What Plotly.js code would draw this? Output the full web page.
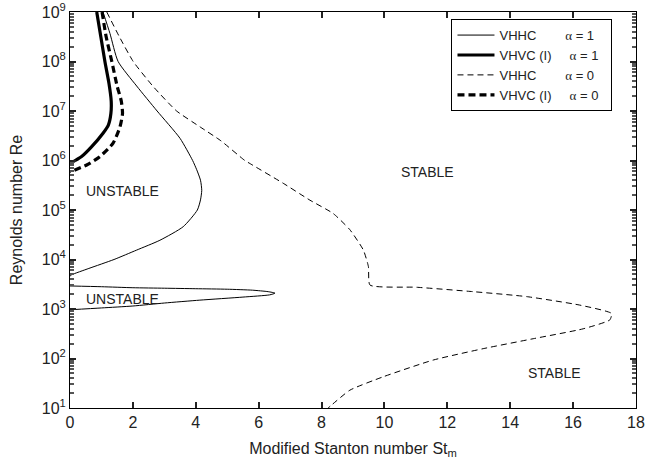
<!DOCTYPE html>
<html>
<head>
<meta charset="utf-8">
<script src="https://cdn.plot.ly/plotly-3.0.1.min.js"></script>
<style>html,body{margin:0;padding:0;background:#fff;}#chart{width:646px;height:473px;}</style>
</head>
<body>
<div id="chart"></div>
<script>
// VHHC, alpha = 1 (thin solid): upper branch
const vhhcA1UpperSt = [1.05, 1.27, 1.53, 2.12, 2.77, 3.5, 3.9, 4.03, 4.15, 4.19, 4.15, 4.05, 3.6, 2.86, 2.12, 1.4, 0.6, 0.05, 0];
const vhhcA1UpperRe = [1e9, 3.7e8, 1e8, 3.2e7, 1e7, 2.8e6, 1e6, 6.5e5, 4e5, 2.5e5, 1.6e5, 1e5, 4.6e4, 2.45e4, 1.55e4, 1e4, 6.6e3, 4.9e3, 4.6e3];
// VHHC, alpha = 1 (thin solid): lower loop
const vhhcA1LowerSt = [0, 1, 2, 3, 4, 5, 5.8, 6.3, 6.52, 6.35, 5.5, 4.13, 3, 2, 1, 0];
const vhhcA1LowerRe = [2920, 2820, 2690, 2630, 2570, 2510, 2400, 2240, 2090, 1930, 1740, 1510, 1320, 1150, 1050, 965];
// VHVC (I), alpha = 1 (thick solid)
const vhvcA1St = [0.85, 0.98, 1.11, 1.24, 1.31, 1.30, 1.22, 1.05, 0.69, 0.37, 0];
const vhvcA1Re = [1e9, 3.16e8, 1e8, 3.6e7, 1.6e7, 8.9e6, 5.2e6, 3.55e6, 1.9e6, 1.2e6, 8.7e5];
// VHHC, alpha = 0 (thin dashed)
const vhhcA0St = [1.17, 1.57, 2.01, 2.65, 3.39, 4.13, 4.8, 5.56, 5.72, 6.78, 7.63, 8.37, 8.9, 9.33, 9.49, 9.54, 11.02, 12.82, 14.52, 16.21, 17.22, 17.17, 16.32, 14.73, 13.14, 11.55, 9.96, 8.9, 8.32, 8.21];
const vhhcA0Re = [1e9, 3.16e8, 1e8, 3.1e7, 1e7, 4.8e6, 2.5e6, 1e6, 8.7e5, 3.47e5, 1.58e5, 8.5e4, 4e4, 1.55e4, 7.2e3, 3.05e3, 2.75e3, 2.24e3, 1.78e3, 1.2e3, 813, 603, 398, 251, 158, 93, 42.7, 22.9, 11.5, 10];
// VHVC (I), alpha = 0 (thick dashed)
const vhvcA0St = [1.02, 1.15, 1.33, 1.5, 1.63, 1.67, 1.59, 1.37, 0.95, 0.53, 0];
const vhvcA0Re = [1e9, 3.16e8, 1e8, 3.16e7, 1.6e7, 8.9e6, 4.8e6, 2.24e6, 1.2e6, 8.1e5, 5.9e5];

const NB = '\u00a0';
const ALPHA = '<span style="font-family:Liberation Serif">α</span>';
const seriesNames = [
  'VHHC' + NB.repeat(8) + ALPHA + ' = 1' + NB.repeat(2),
  'VHVC (I)' + NB.repeat(5) + ALPHA + ' = 1' + NB.repeat(2),
  'VHHC' + NB.repeat(8) + ALPHA + ' = 0' + NB.repeat(2),
  'VHVC (I)' + NB.repeat(5) + ALPHA + ' = 0' + NB.repeat(2)
];

const xTickVals = [0, 2, 4, 6, 8, 10, 12, 14, 16, 18];
const yTickVals = [1e1, 1e2, 1e3, 1e4, 1e5, 1e6, 1e7, 1e8, 1e9];
const yTickText = ['10<sup>1</sup>', '10<sup>2</sup>', '10<sup>3</sup>', '10<sup>4</sup>', '10<sup>5</sup>', '10<sup>6</sup>', '10<sup>7</sup>', '10<sup>8</sup>', '10<sup>9</sup>'];
const yMinorMultipliers = [2, 3, 4, 5, 6, 7, 8, 9];
const yMinorTickVals = [];
yTickVals.slice(0, -1).forEach(d => yMinorMultipliers.forEach(m => yMinorTickVals.push(d * m)));

const regionLabels = ['UNSTABLE', 'UNSTABLE', 'STABLE', 'STABLE'];
const regionSt = [1.67, 1.67, 11.38, 15.42];
const regionRe = [2.45e5, 1.62e3, 5.9e5, 51];

const traces = [
  {x: vhhcA1UpperSt.concat([null], vhhcA1LowerSt), y: vhhcA1UpperRe.concat([null], vhhcA1LowerRe),
   mode: 'lines', name: seriesNames[0], line: {color: '#000', width: 1, shape: 'spline', smoothing: 0.6}, connectgaps: false},
  {x: vhvcA1St, y: vhvcA1Re, mode: 'lines', name: seriesNames[1], line: {color: '#000', width: 3.2, shape: 'spline', smoothing: 0.6}},
  {x: vhhcA0St, y: vhhcA0Re, mode: 'lines', name: seriesNames[2], line: {color: '#000', width: 1, dash: '6px,4px', shape: 'spline', smoothing: 0.5}},
  {x: vhvcA0St, y: vhvcA0Re, mode: 'lines', name: seriesNames[3], line: {color: '#000', width: 3.2, dash: '7px,4px', shape: 'spline', smoothing: 0.6}},
  // carrier for the minor-tick overlay axis (no visible mark)
  {x: [0], y: [yTickVals[0]], yaxis: 'y2', mode: 'markers', marker: {opacity: 0}, showlegend: false, hoverinfo: 'skip'}
];

const annotations = regionLabels.map((t, i) => ({
  x: regionSt[i], y: Math.log10(regionRe[i]), xref: 'x', yref: 'y', text: t, showarrow: false,
  font: {family: 'Arial, Liberation Sans, sans-serif', size: 14, color: '#222'}
}));

const layout = {
  width: 646, height: 473,
  margin: {l: 70, r: 10, t: 12, b: 65},
  font: {family: 'Arial, Liberation Sans, sans-serif', color: '#222'},
  showlegend: true,
  legend: {x: 0.674, y: 0.982, xanchor: 'left', yanchor: 'top', bgcolor: '#fff', bordercolor: '#000', borderwidth: 1,
           itemwidth: 37, font: {size: 13, color: '#222'}},
  xaxis: {range: [0, 18], tickvals: xTickVals, ticks: 'inside', ticklen: 6, tickwidth: 2, tickcolor: '#222', showline: true, linecolor: '#000',
          mirror: 'ticks', showgrid: false, zeroline: false, tickfont: {size: 16, color: '#222'},
          title: {text: 'Modified Stanton number St<sub>m</sub>', font: {size: 16, color: '#222'}, standoff: 12}},
  yaxis: {type: 'log', range: [1, 9], tickmode: 'array', tickvals: yTickVals, ticktext: yTickText,
          ticks: 'inside', ticklen: 6, tickwidth: 2,
          tickcolor: '#222', showline: true, linecolor: '#000', mirror: 'ticks', showgrid: false, zeroline: false,
          tickfont: {size: 16, color: '#222'},
          title: {text: 'Reynolds number Re', font: {size: 16, color: '#222'}, standoff: 15}},
  yaxis2: {type: 'log', range: [1, 9], overlaying: 'y', side: 'left', anchor: 'x', tickmode: 'array', tickvals: yMinorTickVals,
           ticks: 'inside', ticklen: 4, tickwidth: 2, tickcolor: '#555', showticklabels: false, showline: false, mirror: 'ticks',
           showgrid: false, zeroline: false},
  annotations: annotations
};

Plotly.newPlot('chart', traces, layout, {displayModeBar: false, staticPlot: true});
</script>
</body>
</html>
